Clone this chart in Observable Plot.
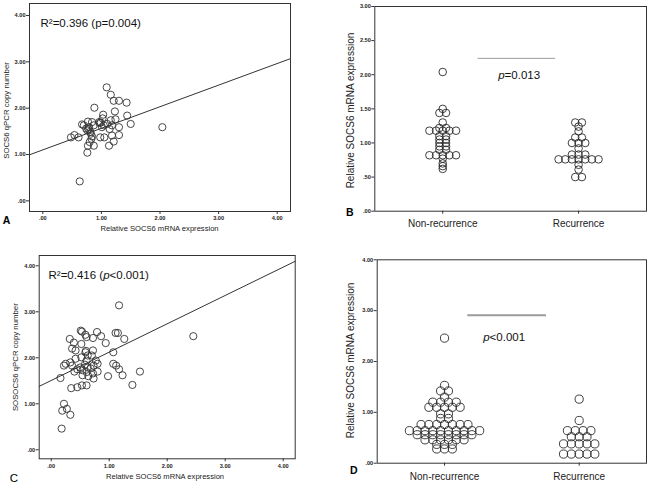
<!DOCTYPE html>
<html><head><meta charset="utf-8">
<script src="https://cdn.jsdelivr.net/npm/d3@7"></script>
<script src="https://cdn.jsdelivr.net/npm/@observablehq/plot@0.6"></script>
<style>
body{margin:0;background:#fff;}
#wrap{position:relative;width:650px;height:488px;overflow:hidden;background:#fff;}
#wrap svg{position:absolute;left:0;top:0;}
</style></head><body><div id="wrap"></div>
<script>
// ---------- Panel A data (scatter) ----------
const aX = [1.09,1.16,1.21,1.30,1.43,0.88,1.23,1.03,1.44,1.50,2.04,0.77,0.84,0.97,0.99,1.16,1.24,0.70,0.67,0.79,0.87,1.01,1.10,1.30,1.18,0.76,0.81,0.74,0.61,0.54,0.48,0.98,1.05,1.18,1.30,0.84,1.21,1.13,0.77,0.87,0.76,0.63,0.83,0.80,0.96,1.04,0.78,0.82,1.02,1.14];
const aY = [2.45,2.29,2.16,2.16,2.12,2.01,1.93,1.86,1.84,1.66,1.59,1.71,1.70,1.68,1.69,1.74,1.76,1.63,1.65,1.59,1.63,1.59,1.66,1.59,1.63,1.52,1.49,1.56,1.37,1.42,1.37,1.37,1.37,1.41,1.42,1.39,1.28,1.19,1.19,1.19,1.04,0.42,1.34,1.27,1.70,1.63,1.55,1.45,1.78,1.55];
const aFit = {intercept: 1.10, slope: 0.466};
const aNote = "R²=0.396 (p=0.004)";
const aXTitle = "Relative SOCS6 mRNA expression";
const aYTitle = "SOCS6 qPCR copy number";

// ---------- Panel C data (scatter) ----------
const cX = [1.17,2.45,0.51,0.53,0.59,0.61,0.72,0.79,0.86,1.11,1.15,1.26,0.32,0.39,0.52,0.94,0.36,0.42,0.59,0.72,1.07,0.52,0.63,0.70,0.42,0.33,0.25,0.22,0.36,0.61,0.73,0.80,1.07,1.12,1.17,1.23,1.53,1.40,0.98,0.16,0.45,0.54,0.61,0.72,0.80,0.54,0.64,0.73,0.345,0.45,0.53,0.61,0.22,0.19,0.27,0.33,0.18,0.63,0.68,0.50,0.77,0.60,0.40,0.58];
const cY = [3.14,2.47,2.59,2.57,2.50,2.45,2.43,2.56,2.47,2.54,2.54,2.41,2.41,2.33,2.30,2.32,2.20,2.16,2.12,2.16,2.12,2.01,2.05,2.05,1.98,1.90,1.87,1.83,1.83,1.94,1.83,1.87,1.87,1.83,1.75,1.62,1.70,1.41,1.60,1.56,1.75,1.73,1.69,1.66,1.70,1.62,1.60,1.55,1.34,1.36,1.40,1.40,1.00,0.85,0.89,0.76,0.46,1.79,1.77,1.79,1.94,2.15,1.70,1.85];
const cFit = {intercept: 1.507, slope: 0.616};
const cNote = "R²=0.416 (p<0.001)";
const cXTitle = "Relative SOCS6 mRNA expression";
const cYTitle = "SOSOCS6 qPCR copy number";

// ---------- Panel B data (dot plot) ----------
const groups = ["Non-recurrence", "Recurrence"];
const bNon = [2.04,1.50,1.44,1.44,1.30,1.22,1.22,1.18,1.18,1.18,1.18,1.18,1.10,1.10,1.05,1.05,1.00,1.00,0.95,0.95,0.90,0.90,0.82,0.82,0.82,0.82,0.82,0.77,0.70,0.66,0.62];
const bRec = [1.30,1.30,1.24,1.17,1.08,1.08,1.00,1.00,1.00,0.92,0.83,0.83,0.83,0.76,0.76,0.76,0.76,0.76,0.76,0.76,0.68,0.61,0.50,0.50];
const bSig = {y: 2.24, from: 0.76, to: 1.33};
const bNote = "p=0.013";
const bYTitle = "Relative SOCS6 mRNA expression";

// ---------- Panel D data (dot plot) ----------
const dNon = [2.46,1.53,1.42,1.42,1.30,1.20,1.20,1.20,1.20,1.10,1.10,1.10,1.10,1.10,0.97,0.97,0.88,0.88,0.76,0.76,0.76,0.76,0.76,0.76,0.76,0.64,0.64,0.64,0.64,0.64,0.64,0.64,0.64,0.64,0.64,0.56,0.56,0.56,0.56,0.56,0.56,0.56,0.56,0.46,0.46,0.46,0.46,0.46,0.46,0.37,0.37,0.37,0.28,0.28,0.28];
const dRec = [1.26,0.84,0.64,0.64,0.64,0.64,0.52,0.52,0.52,0.38,0.38,0.38,0.38,0.38,0.18,0.18,0.18,0.18,0.18];
const dSig = {y: 2.91, from: 0.673, to: 1.257};
const dNote = "p<0.001";
const dYTitle = "Relative SOCS6 mRNA expression";

// ---------- helpers ----------
const FONT = "'Liberation Sans', Arial, Helvetica, sans-serif";
const INK = "#222";
const fmt = d => { const s = d.toFixed(2); return s.startsWith("0.") ? s.slice(1) : s; };
function box(l, t, r, b) {
  return {width: 650, height: 488, marginLeft: l, marginTop: t, marginRight: 650 - r, marginBottom: 488 - b,
    style: {fontFamily: FONT, fontSize: "6px", background: "transparent", color: INK, overflow: "visible"}};
}
function fitLine(fit, dom) { return dom.map(x => ({x, y: fit.intercept + fit.slope * x})); }
function swarm(vals, center, step) {
  const g = d3.group(vals, v => v), out = [];
  for (const [v, arr] of g) arr.forEach((_, i) => out.push({x: center + (i - (arr.length - 1) / 2) * step, y: v}));
  return out;
}
function italicP(svg, str) {
  d3.select(svg).selectAll("text").filter(function() { return this.textContent === str; }).each(function() {
    const i = str.indexOf("p");
    const t = d3.select(this); t.text(null);
    t.append("tspan").text(str.slice(0, i));
    t.append("tspan").attr("font-style", "italic").text("p");
    t.append("tspan").text(str.slice(i + 1));
  });
}
const tickText = {fontSize: 5.6, fontWeight: 600};
function scatter(cfg) {
  const pts = cfg.xs.map((x, i) => ({x, y: cfg.ys[i]}));
  return Plot.plot({
    ...box(...cfg.frame),
    x: {domain: cfg.xd}, y: {domain: cfg.yd},
    marks: [
      Plot.frame({stroke: "#333", strokeWidth: 1}),
      Plot.axisY({ticks: [0,1,2,3,4], tickFormat: fmt, tickSize: 3, tickPadding: 1, ...tickText, label: null, stroke: "#333"}),
      Plot.axisX({ticks: [0,1,2,3,4], tickFormat: fmt, tickSize: 3, tickPadding: cfg.xpad, ...tickText, label: null, stroke: "#333"}),
      Plot.line(fitLine(cfg.fit, cfg.xd), {x: "x", y: "y", stroke: "#333", strokeWidth: 1}),
      Plot.dot(pts, {x: "x", y: "y", r: 3.6, stroke: "#333", strokeWidth: 0.9, fill: "none"}),
      Plot.text([cfg.note], {frameAnchor: "top-left", dx: cfg.noteD[0], dy: cfg.noteD[1], textAnchor: "start", lineAnchor: "middle", fontSize: 11.5, fill: "#111"}),
      Plot.text([cfg.xt], {frameAnchor: "bottom", dx: cfg.xtD[0], dy: cfg.xtD[1], textAnchor: "middle", lineAnchor: "middle", fontSize: 7.6, fill: INK}),
      Plot.text([cfg.yt], {frameAnchor: "left", dx: cfg.ytD[0], dy: cfg.ytD[1], rotate: -90, textAnchor: "middle", lineAnchor: "middle", fontSize: 7.8, fill: INK}),
      Plot.text([cfg.letter], {frameAnchor: "bottom-left", dx: cfg.letD[0], dy: cfg.letD[1], textAnchor: "middle", lineAnchor: "middle", fontSize: cfg.letSize, fontWeight: cfg.letWeight, fill: "#000"})
    ]
  });
}
function dotplot(cfg) {
  const pts = [...swarm(cfg.non, 0.5, cfg.step), ...swarm(cfg.rec, 1.5, cfg.step)];
  const yt = d3.range(0, cfg.ymax + 1e-9, cfg.ystep);
  return Plot.plot({
    ...box(...cfg.frame),
    x: {domain: [0, 2]}, y: {domain: [0, cfg.ymax]},
    marks: [
      Plot.frame({stroke: "#333", strokeWidth: 1}),
      Plot.axisY({ticks: yt, tickFormat: fmt, tickSize: 3, tickPadding: 1, ...tickText, label: null, stroke: "#333"}),
      Plot.axisX({ticks: [0.5, 1.5], tickFormat: d => groups[Math.round(d - 0.5)], tickSize: 3, tickPadding: cfg.xpad, fontSize: 10, label: null, stroke: "#333"}),
      Plot.ruleY([cfg.sig], {y: "y", x1: "from", x2: "to", stroke: "#9a9a9a", strokeWidth: cfg.sigW}),
      Plot.dot(pts, {x: "x", y: "y", r: cfg.r, stroke: "#2a2a2a", strokeWidth: 0.9, fill: "none"}),
      Plot.text([cfg.note], {frameAnchor: "top-left", dx: cfg.noteD[0], dy: cfg.noteD[1], textAnchor: "start", lineAnchor: "middle", fontSize: 11.5, fill: "#111"}),
      Plot.text([cfg.yt], {frameAnchor: "left", dx: cfg.ytD[0], dy: cfg.ytD[1], rotate: -90, textAnchor: "middle", lineAnchor: "middle", fontSize: 10, fill: INK}),
      Plot.text([cfg.letter], {frameAnchor: "bottom-left", dx: cfg.letD[0], dy: cfg.letD[1], textAnchor: "middle", lineAnchor: "middle", fontSize: 10.5, fontWeight: "bold", fill: "#000"})
    ]
  });
}

const wrap = document.getElementById("wrap");
const A = scatter({frame: [29, 3, 290, 211], xd: [-0.227, 4.227], yd: [-0.23, 4.26], xs: aX, ys: aY, fit: aFit,
  note: aNote, noteD: [11, 19.7], xt: aXTitle, xtD: [-0.5, 17], yt: aYTitle, ytD: [-23, 3], xpad: 1.8,
  letter: "A", letD: [-23, 9], letSize: 10.5, letWeight: "bold"});
const C = scatter({frame: [38.7, 255, 294.7, 458.3], xd: [-0.207, 4.207], yd: [-0.196, 4.224], xs: cX, ys: cY, fit: cFit,
  note: cNote, noteD: [9.3, 20], xt: cXTitle, xtD: [-2.2, 17.4], yt: cYTitle, ytD: [-23.7, 0], xpad: 2.5,
  letter: "C", letD: [-25.4, 20], letSize: 11.5, letWeight: "normal"});
const B = dotplot({frame: [374.3, 6, 646, 210.7], ymax: 3, ystep: 0.5, non: bNon, rec: bRec, step: 0.049, r: 3.8,
  sig: bSig, sigW: 1, note: bNote, noteD: [123.4, 69], yt: bYTitle, ytD: [-24.3, 1.7], xpad: 5.7, letter: "B", letD: [-25, 1]});
const D = dotplot({frame: [376.7, 259.3, 646, 462.7], ymax: 4, ystep: 1, non: dNon, rec: dRec, step: 0.058, r: 4.1,
  sig: dSig, sigW: 2, note: dNote, noteD: [106, 77.4], yt: dYTitle, ytD: [-26.7, -1], xpad: 6.7, letter: "D", letD: [-23.4, 7.3]});
for (const p of [A, B, C, D]) wrap.appendChild(p);
italicP(C, cNote); italicP(B, bNote); italicP(D, dNote);
</script></body></html>
